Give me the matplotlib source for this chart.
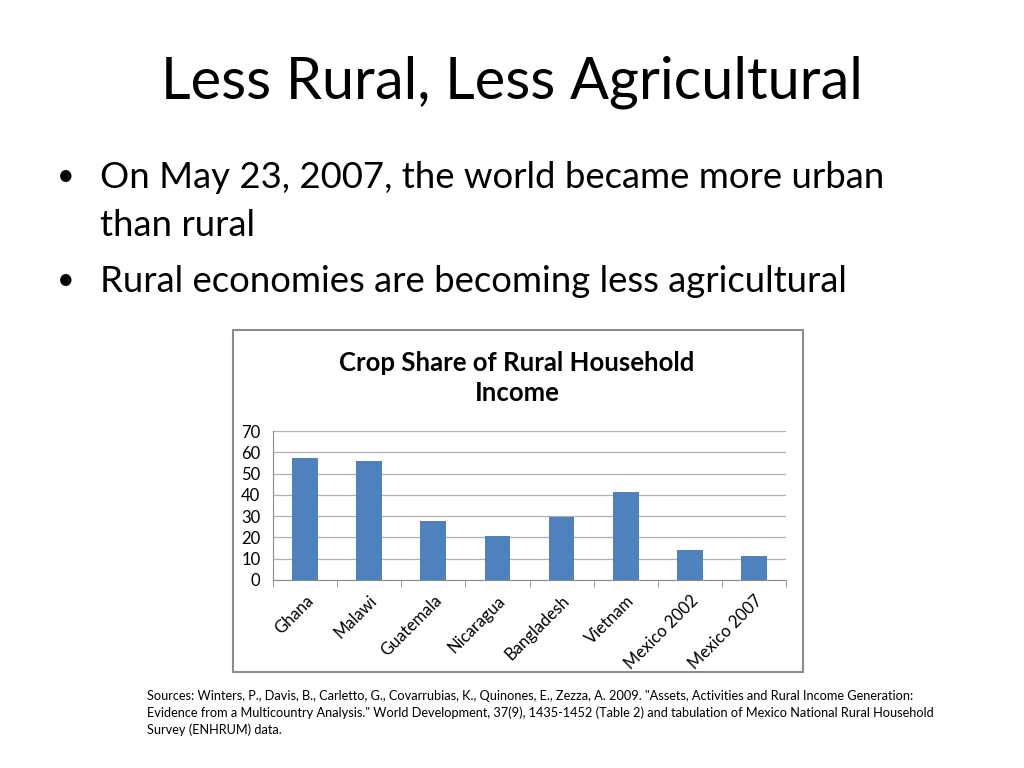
import numpy as np
import matplotlib.pyplot as plt
from matplotlib.patches import Rectangle

# data
countries = ["Ghana", "Malawi", "Guatemala", "Nicaragua", "Bangladesh",
             "Vietnam", "Mexico 2002", "Mexico 2007"]
crop_share = [57.3, 56.0, 27.6, 20.7, 29.6, 41.3, 14.2, 11.2]
y_ticks = [0, 10, 20, 30, 40, 50, 60, 70]

plt.rcParams['font.family'] = ['Lato', 'DejaVu Sans']

fig = plt.figure(figsize=(10.24, 7.68), dpi=100)
fig.patch.set_facecolor("white")

# slide title and bullets
fig.text(0.5, 1 - 82 / 768, "Less Rural, Less Agricultural", ha="center", va="center",
         fontsize=41.5, color="black")
fig.text(57 / 1024, 1 - 176 / 768, "•", ha="left", va="center", fontsize=22)
fig.text(100 / 1024, 1 - 177 / 768, "On May 23, 2007, the world became more urban",
         ha="left", va="center", fontsize=26.3)
fig.text(100 / 1024, 1 - 225 / 768, "than rural", ha="left", va="center", fontsize=26.3)
fig.text(57 / 1024, 1 - 280 / 768, "•", ha="left", va="center", fontsize=22)
fig.text(100 / 1024, 1 - 281 / 768, "Rural economies are becoming less agricultural",
         ha="left", va="center", fontsize=26.3)

# chart frame
fig.patches.append(Rectangle((233 / 1024, 1 - 672 / 768), 570 / 1024, 342 / 768,
                             transform=fig.transFigure, fill=False,
                             edgecolor="#8c8c8c", linewidth=1.5))
fig.text(517 / 1024, 1 - 378 / 768, "Crop Share of Rural Household\nIncome",
         ha="center", va="center", fontsize=18.5, fontweight="bold",
         linespacing=1.3, color="black")

ax = fig.add_axes([273 / 1024, 1 - 580 / 768, 513 / 1024, 149 / 768])
x = np.arange(len(countries))
ax.bar(x, crop_share, width=0.4, color="#4F81BD", zorder=3)
ax.set_xlim(-0.5, len(countries) - 0.5)
ax.set_ylim(0, 70)
ax.set_yticks(y_ticks)
ax.yaxis.grid(True, color="#b0b0b0", linewidth=0.9, zorder=0)
for s in ["top", "right"]:
    ax.spines[s].set_visible(False)
ax.spines["left"].set_color("#8c8c8c")
ax.spines["bottom"].set_color("#8c8c8c")
ax.tick_params(axis="y", length=0, labelsize=12, pad=9)
ax.set_xticks(x)
ax.set_xticklabels(countries, rotation=45, ha="right", va="top",
                   rotation_mode="anchor", fontsize=12)
ax.tick_params(axis="x", length=0, pad=9)
ax.set_xticks(np.arange(-0.5, len(countries)), minor=True)
ax.tick_params(axis="x", which="minor", length=5, color="#8c8c8c", direction="out")

# sources
sources = ('Sources: Winters, P., Davis, B., Carletto, G., Covarrubias, K., Quinones, E., Zezza, A. 2009. '
           '"Assets, Activities and Rural Income Generation:\n'
           'Evidence from a Multicountry Analysis." World Development, 37(9), 1435-1452 (Table 2) '
           'and tabulation of Mexico National Rural Household\n'
           'Survey (ENHRUM) data.')
fig.text(147 / 1024, 1 - 690 / 768, sources, ha="left", va="top", fontsize=9.2,
         linespacing=1.42)

plt.savefig("out.png", dpi=100)
